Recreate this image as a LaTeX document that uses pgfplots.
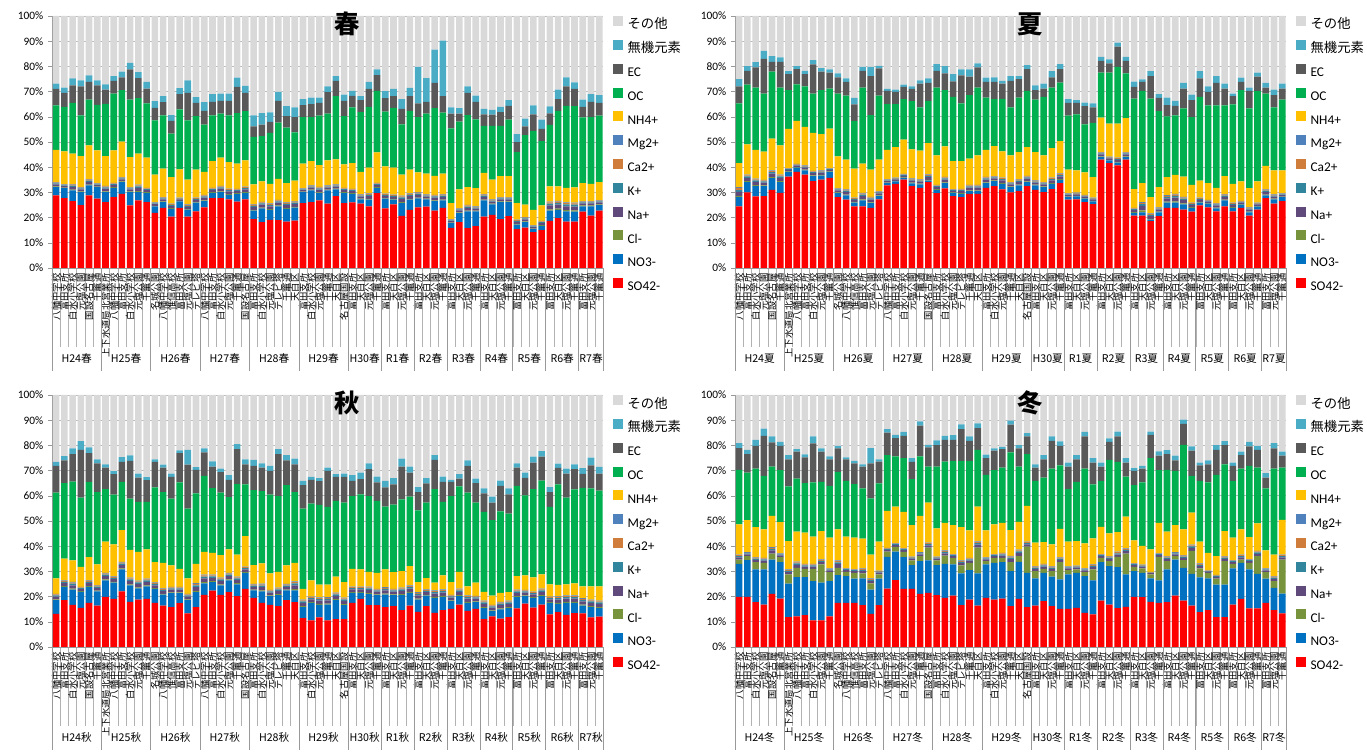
\documentclass[border=0pt]{standalone}
\usepackage{pgfplots}
\pgfplotsset{compat=1.18}
\usepackage{pgfplotstable}
\usepackage{fontspec}
\setmainfont{Carlito}
\newfontfamily\jp{Noto Sans CJK JP}

\definecolor{cSO}{HTML}{FF0000}
\definecolor{cNO}{HTML}{0070C0}
\definecolor{cCl}{HTML}{77933C}
\definecolor{cNa}{HTML}{604A7B}
\definecolor{cK}{HTML}{31859C}
\definecolor{cCa}{HTML}{D07C3A}
\definecolor{cMg}{HTML}{4F81BD}
\definecolor{cNH}{HTML}{FFC000}
\definecolor{cOC}{HTML}{00B050}
\definecolor{cEC}{HTML}{595959}
\definecolor{cIn}{HTML}{4BACC6}
\definecolor{cOt}{HTML}{D9D9D9}

\pgfplotstableread{
so4 no3 cl na k ca mg nh4 oc ec inorg oth
28.8 3.3 0.3 0.8 0.4 0.3 0.2 12.8 17.6 6.6 2.1 26.8
27.7 4.0 0.2 0.6 0.3 0.2 0.2 13.1 17.6 5.6 2.1 28.4
26.5 4.3 0.3 1.1 0.5 0.4 0.2 12.1 20.1 7.0 2.7 24.8
24.9 5.2 0.3 0.8 0.4 0.3 0.2 12.3 16.2 11.5 2.4 25.5
28.8 4.0 0.3 1.1 0.5 0.4 0.2 13.4 18.1 7.1 2.5 23.6
27.5 4.6 0.2 0.6 0.3 0.2 0.2 13.1 18.0 7.8 2.0 25.5
26.1 4.0 0.3 1.1 0.5 0.4 0.2 11.8 20.7 5.7 2.1 27.1
28.1 3.7 0.3 0.8 0.4 0.3 0.2 12.9 22.5 5.1 1.8 23.9
29.4 4.7 0.3 0.8 0.4 0.3 0.2 14.0 20.5 5.0 2.3 22.1
24.8 5.3 0.3 0.8 0.4 0.3 0.2 11.9 22.8 12.0 2.6 18.6
26.8 3.3 0.4 1.3 0.6 0.4 0.3 12.3 22.0 7.9 2.4 22.3
26.1 3.7 0.3 0.8 0.4 0.3 0.2 12.0 21.5 5.9 2.7 26.1
21.9 2.6 0.2 0.6 0.3 0.2 0.2 11.1 21.5 4.9 2.7 33.8
23.9 2.2 0.3 0.8 0.4 0.3 0.2 11.3 21.2 5.2 2.4 31.8
20.4 3.1 0.3 0.8 0.4 0.3 0.2 10.6 17.2 5.1 2.3 39.3
23.9 2.5 0.2 0.6 0.3 0.2 0.2 11.2 23.8 6.1 2.4 28.6
20.4 2.8 0.3 0.8 0.4 0.3 0.2 9.9 23.5 10.9 5.0 25.5
22.5 3.4 0.3 0.8 0.4 0.3 0.2 11.1 21.3 5.2 2.3 32.2
24.1 2.4 0.3 1.1 0.5 0.4 0.2 9.1 18.8 5.4 3.5 34.2
27.7 2.1 0.3 0.8 0.4 0.3 0.2 10.6 18.2 5.3 3.1 31.0
27.7 2.4 0.3 1.1 0.5 0.4 0.2 11.2 17.5 5.0 2.9 30.8
27.2 1.8 0.3 1.1 0.5 0.4 0.2 10.5 18.6 5.7 2.9 30.8
26.3 3.1 0.3 0.8 0.4 0.3 0.2 10.0 20.1 10.4 3.6 24.5
27.2 2.6 0.3 1.1 0.5 0.4 0.2 10.4 19.5 7.3 2.8 27.7
19.4 3.4 0.3 1.1 0.5 0.4 0.2 7.9 18.8 4.2 4.4 39.4
18.2 5.5 0.3 1.1 0.5 0.4 0.2 8.2 17.9 4.6 4.6 38.5
19.1 4.0 0.3 1.1 0.5 0.4 0.2 7.8 20.2 4.4 3.8 38.2
19.0 5.5 0.3 1.1 0.5 0.4 0.2 8.4 22.3 8.6 3.6 30.1
18.4 5.1 0.3 1.1 0.5 0.4 0.2 7.7 22.0 4.6 3.9 35.8
18.8 5.2 0.3 1.1 0.5 0.4 0.2 8.2 19.1 6.1 3.8 36.3
25.7 4.4 0.2 0.6 0.3 0.2 0.2 9.8 18.5 4.7 2.4 33.0
26.1 4.7 0.3 0.8 0.4 0.3 0.2 9.6 17.5 5.1 2.6 32.4
26.8 2.9 0.3 1.1 0.5 0.4 0.2 8.6 19.7 5.0 2.1 32.4
25.5 5.3 0.3 0.8 0.4 0.3 0.2 9.9 18.6 8.5 2.3 27.9
28.5 2.7 0.3 0.8 0.4 0.3 0.2 9.9 25.1 6.1 1.8 23.9
25.7 4.1 0.3 0.8 0.4 0.3 0.2 9.3 19.2 6.0 2.5 31.2
26.0 3.4 0.3 0.8 0.4 0.3 0.2 10.2 22.1 4.6 2.0 29.7
25.5 1.7 0.3 0.8 0.4 0.3 0.2 8.9 23.8 4.7 1.6 31.8
24.5 2.6 0.3 1.1 0.5 0.4 0.2 10.2 24.1 7.2 2.8 26.1
29.7 2.1 0.3 0.8 0.4 0.3 0.2 12.1 24.4 6.2 2.3 21.2
23.7 3.8 0.3 0.8 0.4 0.3 0.2 10.8 21.8 5.3 2.8 29.8
25.2 1.9 0.3 0.8 0.4 0.3 0.2 10.7 23.7 4.7 2.9 28.9
20.7 5.0 0.4 1.3 0.6 0.4 0.3 8.4 19.9 6.1 3.9 33.0
23.1 4.0 0.3 1.1 0.5 0.4 0.2 9.4 23.3 5.9 3.3 28.5
24.1 3.5 0.3 1.1 0.5 0.4 0.2 7.8 22.0 5.4 14.5 20.2
24.4 2.8 0.3 0.8 0.4 0.3 0.2 8.2 23.9 4.6 9.4 24.7
22.8 3.7 0.3 1.1 0.5 0.4 0.2 7.6 26.8 10.1 13.2 13.3
23.9 2.9 0.3 1.1 0.5 0.4 0.2 8.1 24.3 6.5 22.0 9.8
15.9 1.9 0.2 0.6 0.3 0.2 0.2 6.4 29.7 5.9 2.4 36.3
18.2 3.6 0.3 0.8 0.4 0.3 0.2 7.4 26.9 3.2 2.1 36.6
15.8 6.7 0.3 1.1 0.5 0.4 0.2 7.1 28.6 8.8 2.6 27.9
16.6 5.9 0.3 0.8 0.4 0.3 0.2 7.2 27.3 6.9 2.5 31.6
20.4 6.4 0.3 1.1 0.5 0.4 0.2 8.4 18.7 4.6 2.1 36.9
21.1 4.1 0.3 0.8 0.4 0.3 0.2 7.9 21.3 4.5 1.8 37.3
19.4 6.7 0.3 0.8 0.4 0.3 0.2 8.4 19.9 5.5 2.0 36.1
20.6 5.5 0.3 0.8 0.4 0.3 0.2 8.4 22.4 5.4 2.3 33.4
15.4 1.8 0.3 0.8 0.4 0.3 0.2 6.5 20.3 3.9 3.2 46.9
16.0 2.2 0.3 0.8 0.4 0.3 0.2 4.9 27.6 3.5 3.1 40.7
14.2 1.2 0.2 0.6 0.3 0.2 0.2 6.2 31.3 6.6 3.5 35.5
15.0 1.7 0.3 0.8 0.4 0.3 0.2 6.1 25.5 4.9 3.7 41.1
18.7 4.1 0.5 1.5 0.7 0.5 0.3 6.1 24.4 4.6 2.7 35.9
19.8 3.3 0.5 1.5 0.7 0.5 0.3 5.8 29.9 4.7 3.8 29.2
18.4 4.1 0.5 1.5 0.7 0.5 0.3 5.8 32.5 7.8 3.5 24.4
18.4 4.0 0.5 1.5 0.7 0.5 0.3 6.1 32.2 6.9 2.6 26.3
22.4 2.1 0.3 0.8 0.4 0.3 0.2 7.2 26.1 4.1 2.9 33.2
20.8 3.7 0.3 0.8 0.4 0.3 0.2 6.9 26.5 6.0 3.1 31.0
22.8 2.1 0.3 0.8 0.4 0.3 0.2 7.2 26.4 5.0 3.1 31.4
}\spring

\pgfplotstableread{
so4 no3 cl na k ca mg nh4 oc ec inorg oth
24.5 3.6 0.5 1.6 0.7 0.9 0.3 9.5 23.7 6.8 2.8 25.1
30.0 4.1 0.4 1.3 0.6 0.4 0.3 12.0 23.7 5.4 1.9 19.9
28.4 4.1 0.4 1.3 0.6 0.4 0.3 11.4 24.7 8.0 2.1 18.3
28.5 4.0 0.3 1.1 0.5 0.4 0.2 11.2 23.0 13.8 3.2 13.8
31.0 4.7 0.4 1.3 0.6 0.4 0.3 12.6 26.6 3.9 2.3 15.9
29.8 4.3 0.4 1.3 0.6 0.4 0.3 11.6 22.9 10.2 1.8 16.4
36.3 1.8 0.2 0.6 0.3 0.2 0.2 15.6 15.4 6.3 1.2 21.9
38.1 1.7 0.2 0.6 0.3 0.2 0.2 17.1 14.5 6.0 1.2 19.9
37.1 1.6 0.3 0.8 0.4 0.3 0.2 15.3 16.1 4.8 1.3 21.8
34.5 2.0 0.3 0.8 0.4 0.3 0.2 15.1 15.6 11.6 1.7 17.5
35.1 1.6 0.3 0.8 0.4 0.3 0.2 14.4 17.5 7.3 1.4 20.7
35.8 2.3 0.2 0.6 0.3 0.2 0.2 15.7 15.9 6.3 1.3 21.2
28.1 1.6 0.3 0.8 0.4 0.3 0.2 12.6 24.9 6.4 1.6 22.8
27.1 1.7 0.3 1.1 0.5 0.4 0.2 11.7 25.4 5.5 1.3 24.8
24.5 1.4 0.3 0.8 0.4 0.3 0.2 11.5 19.0 6.5 2.6 32.5
24.5 2.3 0.4 1.3 0.6 0.4 0.3 11.6 30.2 6.6 1.6 20.2
23.9 1.8 0.3 1.1 0.5 0.4 0.2 10.8 21.7 15.4 3.7 20.2
27.2 1.3 0.3 0.8 0.4 0.3 0.2 12.5 25.4 10.8 1.0 19.8
32.8 0.9 0.2 0.6 0.3 0.2 0.2 11.7 18.1 5.3 0.8 28.9
33.4 1.0 0.2 0.6 0.3 0.2 0.2 12.1 17.0 4.9 0.9 29.2
35.1 0.7 0.2 0.6 0.3 0.2 0.2 13.6 16.1 4.9 0.9 27.2
32.5 1.1 0.3 0.8 0.4 0.3 0.2 11.5 19.1 4.9 1.0 27.9
31.8 1.4 0.3 0.8 0.4 0.3 0.2 11.4 17.1 9.5 1.3 25.5
34.1 0.6 0.3 1.1 0.5 0.4 0.2 12.4 16.7 7.2 1.7 24.8
29.7 1.3 0.3 0.8 0.4 0.3 0.2 11.7 26.9 6.6 2.7 19.1
31.6 2.1 0.3 1.1 0.5 0.4 0.2 12.1 22.3 6.6 2.9 19.9
28.5 1.3 0.2 0.6 0.3 0.2 0.2 11.1 25.5 6.2 2.8 23.1
28.1 1.3 0.3 0.8 0.4 0.3 0.2 11.0 22.9 11.1 2.4 21.2
29.4 1.1 0.3 1.1 0.5 0.4 0.2 10.4 25.2 7.3 2.9 21.2
29.4 1.1 0.3 1.1 0.5 0.4 0.2 11.7 26.9 8.0 1.6 18.8
31.8 1.9 0.3 1.1 0.5 0.4 0.2 10.7 20.7 6.3 1.6 24.5
32.5 2.0 0.3 0.8 0.4 0.3 0.2 11.9 18.6 6.9 1.7 24.4
31.2 2.2 0.3 1.1 0.5 0.4 0.2 10.4 20.8 6.1 1.1 25.7
30.0 2.1 0.3 0.8 0.4 0.3 0.2 10.6 19.0 10.6 1.8 23.9
30.5 2.3 0.3 1.1 0.5 0.4 0.2 10.7 21.6 7.3 1.2 23.9
32.5 1.6 0.3 1.1 0.5 0.4 0.2 11.4 22.3 8.6 1.6 19.5
31.0 1.8 0.3 0.8 0.4 0.3 0.2 11.2 20.8 3.8 1.9 27.5
30.1 2.0 0.3 0.8 0.4 0.3 0.2 10.6 23.2 3.3 2.0 26.8
31.3 2.1 0.3 1.1 0.5 0.4 0.2 11.7 24.0 4.0 2.5 21.9
33.7 1.3 0.3 1.1 0.5 0.4 0.2 12.8 23.3 5.3 2.0 19.1
27.1 1.0 0.2 0.6 0.3 0.2 0.2 9.4 21.5 5.0 1.5 33.0
27.2 1.2 0.2 0.6 0.3 0.2 0.2 8.8 22.3 4.5 1.1 33.4
26.1 1.4 0.2 0.6 0.3 0.2 0.2 8.9 19.1 7.2 1.4 34.4
25.3 1.1 0.2 0.6 0.3 0.2 0.2 8.2 21.5 6.1 1.6 34.7
43.0 1.0 0.3 0.8 0.4 0.3 0.2 13.7 17.8 4.7 1.6 16.2
41.6 1.1 0.2 0.6 0.3 0.2 0.2 13.1 20.2 3.7 1.6 17.2
40.7 1.1 0.3 0.8 0.4 0.3 0.2 13.5 22.5 8.0 1.6 10.6
43.0 1.0 0.3 0.8 0.4 0.3 0.2 13.5 17.7 5.0 1.6 16.2
20.8 1.1 0.3 0.8 0.4 0.3 0.2 7.4 35.9 4.7 2.1 26.0
20.8 1.3 0.8 1.8 0.6 0.5 0.3 7.6 36.6 3.6 0.9 25.2
18.6 0.6 0.3 1.1 0.5 0.4 0.2 6.4 39.1 8.9 2.0 21.9
20.6 1.5 0.3 0.8 0.4 0.3 0.2 8.0 30.1 5.3 1.5 31.0
23.9 2.0 0.4 1.3 0.6 0.4 0.3 7.2 24.1 4.4 3.0 32.4
23.9 2.0 0.5 1.5 0.7 0.5 0.3 7.6 23.6 3.7 2.0 33.7
23.2 2.0 0.4 1.3 0.6 0.4 0.3 8.1 27.0 7.9 2.3 26.5
22.4 1.5 0.3 0.8 0.4 0.3 0.2 7.1 26.9 6.7 2.2 31.2
24.8 1.1 0.3 0.8 0.4 0.3 0.2 6.8 33.2 7.3 2.9 21.9
24.1 1.4 0.2 0.6 0.3 0.2 0.2 6.7 30.8 5.4 2.2 27.9
22.5 1.2 0.3 0.8 0.4 0.3 0.2 6.1 32.7 9.0 2.6 23.9
24.5 2.3 0.3 1.1 0.5 0.4 0.2 7.2 28.0 6.7 2.0 26.8
22.5 1.4 0.3 0.8 0.4 0.3 0.2 7.5 31.5 3.3 1.0 30.8
23.9 1.2 0.2 0.6 0.3 0.2 0.2 7.8 36.2 3.3 1.6 24.5
20.8 1.3 0.3 0.8 0.4 0.3 0.2 7.6 31.6 7.0 1.3 28.4
23.2 1.2 0.2 0.6 0.3 0.2 0.2 8.5 35.8 5.7 1.6 22.5
27.7 1.1 0.3 1.1 0.5 0.4 0.2 9.2 28.7 2.4 1.9 26.5
25.5 1.7 0.3 0.8 0.4 0.3 0.2 9.5 25.0 4.9 2.2 29.2
26.5 1.6 0.2 0.6 0.3 0.2 0.2 9.1 28.1 4.4 2.0 26.8
}\summer

\pgfplotstableread{
so4 no3 cl na k ca mg nh4 oc ec inorg oth
13.1 5.5 0.3 1.1 0.5 0.4 0.2 6.1 34.1 10.6 1.6 26.5
18.6 5.3 0.3 1.1 0.5 0.4 0.2 8.7 29.9 9.1 1.6 24.3
16.7 6.1 0.4 1.3 0.6 0.4 0.3 8.6 31.2 10.9 2.3 21.2
15.5 6.4 0.3 0.8 0.4 0.3 0.2 7.9 27.5 18.9 3.5 18.3
17.5 6.4 0.3 1.1 0.5 0.4 0.2 9.3 29.8 11.4 2.3 20.8
16.4 5.7 0.3 1.1 0.5 0.4 0.2 8.2 28.7 11.4 1.6 25.5
19.9 6.5 0.4 1.3 0.6 0.4 0.3 12.4 20.8 8.6 1.3 27.5
19.1 6.4 0.3 1.1 0.5 0.4 0.2 12.7 19.8 8.1 1.2 30.2
22.1 8.7 0.4 1.3 0.6 0.4 0.3 12.6 19.1 8.0 1.8 24.7
17.9 6.6 0.4 1.3 0.6 0.4 0.3 11.0 20.4 15.0 2.1 24.0
18.8 4.5 0.4 1.3 0.6 0.4 0.3 11.4 19.9 9.6 1.6 31.2
19.1 5.0 0.4 1.3 0.6 0.4 0.3 11.6 18.9 8.6 1.2 32.6
17.5 5.6 0.3 1.1 0.5 0.4 0.2 8.1 29.6 10.2 1.0 25.5
16.4 4.4 0.3 1.1 0.5 0.4 0.2 10.1 28.1 9.7 1.2 27.6
15.8 5.6 0.3 1.1 0.5 0.4 0.2 8.5 26.5 8.6 1.3 31.2
17.4 4.0 0.3 1.1 0.5 0.4 0.2 7.1 34.3 11.6 1.1 22.0
13.3 5.3 0.3 1.1 0.5 0.4 0.2 6.1 27.7 17.5 5.8 21.8
15.8 6.0 0.5 1.5 0.7 0.5 0.3 7.7 28.0 9.3 1.1 28.6
20.7 4.5 0.5 1.5 0.7 0.5 0.3 9.0 30.2 9.3 1.6 21.2
22.4 3.3 0.4 1.3 0.6 0.4 0.3 8.7 25.6 8.6 2.1 26.3
20.7 3.8 0.4 1.3 0.6 0.4 0.3 9.0 24.8 8.1 1.4 29.2
21.8 4.6 0.4 1.3 0.6 0.4 0.3 9.3 20.8 6.8 1.9 31.8
20.2 4.7 0.4 1.3 0.6 0.4 0.3 8.8 27.9 13.9 2.0 19.5
23.1 6.3 0.3 1.1 0.5 0.4 0.2 12.1 20.5 8.0 2.0 25.5
19.5 3.0 0.3 1.1 0.5 0.4 0.2 7.5 29.8 9.6 2.4 25.7
17.5 4.6 0.4 1.3 0.6 0.4 0.3 8.1 28.7 9.3 1.7 27.1
16.7 3.5 0.3 1.1 0.5 0.4 0.2 6.5 31.3 9.4 2.0 28.1
16.2 4.4 0.4 1.3 0.6 0.4 0.3 6.2 30.1 16.6 2.0 21.5
18.6 3.9 0.3 1.1 0.5 0.4 0.2 7.4 31.8 9.9 2.0 23.9
17.8 4.7 0.5 1.5 0.7 0.5 0.3 7.4 28.1 11.0 2.3 25.2
11.5 4.3 0.4 1.3 0.6 0.4 0.3 4.3 31.8 9.3 1.7 34.1
10.6 6.9 0.3 1.1 0.5 0.4 0.2 6.4 30.5 9.4 1.2 32.5
11.8 4.9 0.4 1.3 0.6 0.4 0.3 5.1 31.6 9.4 1.2 33.0
10.6 6.2 0.4 1.3 0.6 0.4 0.3 5.0 30.8 14.3 1.3 28.8
11.1 7.5 0.4 1.3 0.6 0.4 0.3 6.3 30.1 9.5 1.1 31.4
11.1 5.5 0.4 1.3 0.6 0.4 0.3 6.1 31.6 10.2 1.3 31.2
17.5 4.0 0.3 1.1 0.5 0.4 0.2 7.0 28.9 6.0 2.3 31.8
19.1 2.4 0.3 1.1 0.5 0.4 0.2 6.8 29.8 6.0 2.6 30.8
16.6 4.4 0.4 1.3 0.6 0.4 0.3 5.8 30.1 10.7 2.3 27.1
16.6 4.0 0.3 1.1 0.5 0.4 0.2 6.3 28.6 7.3 2.3 32.4
15.8 5.0 0.4 1.3 0.6 0.4 0.3 7.0 24.9 7.6 2.6 34.1
16.2 4.4 0.3 1.1 0.5 0.4 0.2 6.6 26.8 8.0 2.5 33.0
14.6 6.0 0.4 1.3 0.6 0.4 0.3 6.5 28.5 13.0 3.2 25.2
16.4 5.1 0.4 1.3 0.6 0.4 0.3 7.6 27.6 9.5 2.4 28.4
13.9 4.9 0.4 1.3 0.6 0.4 0.3 3.9 28.5 7.3 1.9 36.6
16.2 4.2 0.3 1.1 0.5 0.4 0.2 4.4 30.0 7.6 2.1 33.0
13.5 6.0 0.4 1.3 0.6 0.4 0.3 3.0 37.1 11.7 1.8 23.9
14.6 5.3 0.4 1.3 0.6 0.4 0.3 5.5 29.2 7.9 2.1 32.4
15.1 3.1 0.3 1.1 0.5 0.4 0.2 5.0 34.2 5.6 0.8 33.7
16.8 3.4 0.4 1.3 0.6 0.4 0.3 6.6 33.9 3.1 1.8 31.4
14.3 3.2 0.4 1.3 0.6 0.4 0.3 3.6 37.2 10.6 2.2 25.9
15.1 2.7 0.3 1.1 0.5 0.4 0.2 5.2 31.8 7.7 1.8 33.2
11.1 4.3 0.4 1.3 0.6 0.4 0.3 3.5 31.7 7.4 1.9 37.1
12.2 2.0 0.3 1.1 0.5 0.4 0.2 3.7 29.9 7.0 2.4 40.3
11.3 3.6 0.4 1.3 0.6 0.4 0.3 3.6 32.3 10.1 2.1 34.0
11.9 3.5 0.4 1.3 0.6 0.4 0.3 3.4 31.1 7.7 2.3 37.1
15.3 4.5 0.4 1.3 0.6 0.4 0.3 5.3 35.8 7.3 1.7 27.1
17.2 3.0 0.3 1.1 0.5 0.4 0.2 5.7 31.8 6.9 2.1 30.8
15.6 3.9 0.3 1.1 0.5 0.4 0.2 5.6 35.0 10.6 2.3 24.5
16.8 3.4 0.4 1.3 0.6 0.4 0.3 5.6 37.2 9.5 2.2 22.3
12.9 4.6 0.3 1.1 0.5 0.4 0.2 4.9 30.7 5.9 1.9 36.6
13.8 3.3 0.4 1.3 0.6 0.4 0.3 4.6 39.8 6.6 1.7 27.2
12.7 4.8 0.4 1.3 0.6 0.4 0.3 4.4 34.4 9.5 2.0 29.2
13.4 4.1 0.4 1.3 0.6 0.4 0.3 4.7 37.3 8.1 1.9 27.5
13.3 3.1 0.4 1.3 0.6 0.4 0.3 4.7 39.0 5.6 2.3 29.0
11.8 4.0 0.4 1.3 0.6 0.4 0.3 5.3 38.8 9.2 3.0 24.9
12.1 3.3 0.4 1.3 0.6 0.4 0.3 5.7 38.0 6.7 2.7 28.5
}\autumn

\pgfplotstableread{
so4 no3 cl na k ca mg nh4 oc ec inorg oth
19.9 13.1 1.7 0.9 0.5 0.4 0.2 12.0 21.6 8.6 2.0 19.1
19.9 14.6 1.6 0.7 0.4 0.2 0.2 12.7 18.9 7.3 1.7 21.8
17.8 13.0 2.9 0.9 0.5 0.4 0.2 11.9 23.2 9.0 2.4 17.8
16.8 14.0 2.6 0.9 0.5 0.4 0.2 11.3 21.2 15.9 2.9 13.3
21.1 13.6 2.4 1.2 0.6 0.4 0.3 12.4 19.6 9.6 2.4 16.4
19.2 14.5 2.0 0.7 0.4 0.2 0.2 12.4 20.6 9.6 1.6 18.6
11.9 13.2 3.7 0.9 0.5 0.4 0.2 11.2 21.7 10.8 1.6 23.9
12.2 15.5 3.7 1.2 0.6 0.4 0.3 11.9 21.0 10.7 1.0 21.5
12.6 15.1 3.3 0.9 0.5 0.4 0.2 12.4 19.6 10.2 1.2 23.6
10.6 15.5 4.9 0.9 0.5 0.4 0.2 10.8 21.5 15.5 2.8 16.4
10.6 14.9 7.3 0.9 0.5 0.4 0.2 11.2 19.5 12.0 1.3 21.2
12.2 13.9 3.6 0.7 0.4 0.2 0.2 12.2 20.5 10.6 1.1 24.4
17.5 11.0 2.9 1.6 0.6 0.5 0.3 12.3 22.8 9.3 1.0 20.2
17.5 10.6 1.7 0.7 0.4 0.2 0.2 12.5 22.1 8.6 0.7 24.8
17.5 9.6 2.3 0.7 0.4 0.2 0.2 12.5 21.2 8.3 1.0 26.1
16.6 10.6 2.0 0.9 0.5 0.4 0.2 11.8 19.9 8.7 0.9 27.5
13.1 9.7 2.4 0.9 0.5 0.4 0.2 9.5 22.3 13.9 6.0 21.1
16.6 10.5 1.7 0.7 0.4 0.2 0.2 11.5 23.1 8.7 0.9 25.5
23.2 12.6 2.0 0.7 0.4 0.2 0.2 14.7 22.1 9.0 1.4 13.5
26.5 11.3 1.9 0.7 0.4 0.2 0.2 14.5 19.9 7.3 1.3 15.8
23.1 12.6 2.0 0.7 0.4 0.2 0.2 14.4 21.3 8.9 1.6 14.6
23.1 9.4 1.9 0.7 0.4 0.2 0.2 12.5 18.2 6.9 1.4 25.1
21.1 13.0 2.0 0.7 0.4 0.2 0.2 14.4 23.6 12.2 1.7 10.5
21.5 12.9 5.0 0.9 0.5 0.4 0.2 15.9 14.3 7.6 1.0 19.8
20.6 11.9 1.9 0.7 0.4 0.2 0.2 11.2 24.5 8.5 1.9 18.0
19.5 13.5 3.3 0.9 0.5 0.4 0.2 11.0 24.3 8.6 1.6 16.2
20.4 12.4 2.6 0.7 0.4 0.2 0.2 11.5 25.5 8.3 1.9 15.9
16.6 12.6 3.2 0.9 0.5 0.4 0.2 13.2 26.3 12.6 1.8 11.7
18.8 11.7 2.9 0.9 0.5 0.4 0.2 10.9 27.6 7.9 1.8 16.4
16.4 12.8 10.2 1.2 0.6 0.4 0.3 13.8 22.5 8.7 1.8 11.3
19.5 13.3 1.3 0.7 0.4 0.2 0.2 10.7 22.0 6.6 1.4 23.7
18.8 14.6 2.0 0.7 0.4 0.2 0.2 11.8 21.5 7.7 0.9 21.2
19.2 14.5 1.7 0.9 0.5 0.4 0.2 11.9 21.9 7.3 0.9 20.6
16.2 13.9 3.6 1.2 0.6 0.4 0.3 10.2 30.8 11.0 1.6 10.2
19.1 14.7 2.3 1.2 0.6 0.4 0.3 11.1 21.9 7.2 1.3 19.9
15.8 13.6 10.4 0.9 0.5 0.4 0.2 14.2 20.5 7.1 1.3 15.1
16.4 10.8 2.9 0.9 0.5 0.4 0.2 9.3 24.5 5.3 1.3 27.5
18.2 11.2 1.6 0.9 0.5 0.4 0.2 8.6 25.6 7.3 1.6 23.9
16.2 11.7 2.2 0.9 0.5 0.4 0.2 8.6 30.1 11.0 1.8 16.4
15.1 11.7 6.9 0.9 0.5 0.4 0.2 11.2 25.2 7.7 1.8 18.4
15.1 13.7 1.7 0.7 0.4 0.2 0.2 9.8 20.8 9.0 1.6 26.8
15.5 13.9 1.4 0.7 0.4 0.2 0.2 9.7 23.5 9.0 1.6 23.9
13.5 14.6 1.6 0.7 0.4 0.2 0.2 9.9 29.7 12.8 1.8 14.6
12.9 13.5 4.4 0.9 0.5 0.4 0.2 10.3 21.4 8.7 1.7 25.1
18.4 15.3 1.7 0.7 0.4 0.2 0.2 10.8 18.2 5.7 1.6 26.8
16.8 15.3 2.0 0.9 0.5 0.4 0.2 9.0 29.2 7.1 1.4 17.2
15.4 16.3 4.1 0.9 0.5 0.4 0.2 7.8 27.9 10.1 1.9 14.5
15.9 12.9 8.3 0.9 0.5 0.4 0.2 12.6 15.9 5.6 1.7 25.1
19.9 10.2 1.7 0.7 0.4 0.2 0.2 9.0 21.9 5.7 1.1 29.0
19.8 9.6 1.8 0.7 0.4 0.2 0.2 7.4 25.2 5.5 1.1 28.1
17.9 9.3 1.6 0.5 0.2 0.2 0.1 8.9 36.2 9.3 1.3 14.5
17.5 8.9 9.4 0.7 0.4 0.2 0.2 12.0 20.9 5.7 1.7 22.4
17.8 13.0 3.3 0.9 0.5 0.4 0.2 9.7 24.5 6.2 1.6 21.9
20.4 14.3 1.4 0.7 0.4 0.2 0.2 10.8 21.5 4.2 1.8 24.1
18.4 13.0 3.1 0.9 0.5 0.4 0.2 10.2 33.5 8.3 1.7 9.8
16.4 12.6 9.1 1.2 0.6 0.4 0.3 12.7 14.6 10.0 1.7 20.4
13.8 13.8 3.6 0.9 0.5 0.4 0.2 8.6 24.1 6.2 1.1 26.8
14.6 12.6 2.2 0.5 0.2 0.2 0.1 7.0 27.9 7.2 1.6 25.9
11.9 12.9 2.3 0.7 0.4 0.2 0.2 7.5 32.2 9.9 1.9 19.9
11.9 12.9 9.3 0.9 0.5 0.4 0.2 9.9 26.5 7.6 1.6 18.3
16.8 14.4 1.8 0.7 0.4 0.2 0.2 8.9 22.5 6.0 1.3 26.8
19.1 14.3 1.3 0.9 0.5 0.4 0.2 10.0 24.1 5.3 1.4 22.5
15.3 15.5 2.6 0.7 0.4 0.2 0.2 8.7 28.3 7.7 1.8 18.6
15.3 13.7 7.1 0.9 0.5 0.4 0.2 11.0 22.1 7.0 1.6 20.2
17.5 9.6 2.6 0.7 0.4 0.2 0.2 7.1 24.6 4.3 1.8 31.0
14.6 8.9 2.6 0.9 0.5 0.4 0.2 8.6 34.1 8.0 2.1 19.1
13.3 7.9 13.5 0.9 0.5 0.4 0.2 13.7 20.8 4.7 1.6 22.5
}\winter

\pgfplotsset{
 sitelabels/.style={xticklabels={八幡中学校,富田支所,白水小学校,元塩公園,国設名古屋,千竃通,上下水道局北営業所,八幡中学校,富田支所,白水小学校,元塩公園,千竃通,名城公園,八幡中学校,惟信高校,富田支所,元塩公園,テレビ塔,八幡中学校,富田支所,白水小学校,元塩公園,千竃通,国設名古屋,富田支所,白水小学校,元塩公園,テレビ塔,千竃通,天白区,富田支所,白水小学校,元塩公園,千竃通,天白区,名古屋国設,富田支所,天白区,元塩公園,千竃通,富田支所,天白区,元塩公園,千竃通,富田支所,天白区,元塩公園,千竃通,富田支所,天白区,元塩公園,千竃通,富田支所,天白区,元塩公園,千竃通,富田支所,天白区,元塩公園,千竃通,富田支所,天白区,元塩公園,千竃通,富田支所,元塩公園,千竃通}},
 panel/.style={
  ybar stacked, bar width=0.8,
  scale only axis, width=413.5pt, height=189pt,
  anchor=south west,
  xmin=-0.5, xmax=66.5, ymin=0, ymax=100,
  enlargelimits=false, clip=false,
  axis x line*=bottom, axis y line*=left,
  axis line style={draw=gray!80},
  ytick={0,10,...,100},
  yticklabels={0\%,10\%,20\%,30\%,40\%,50\%,60\%,70\%,80\%,90\%,100\%},
  yticklabel style={font=\fontsize{8.5}{9}\selectfont},
  ymajorgrids, major grid style={gray!55, line width=0.5pt},
  xtick={0,...,66},
  sitelabels,
  xticklabel style={font=\jp\fontsize{7}{7}\selectfont, rotate=90, anchor=east, inner sep=1pt},
  minor xtick={-0.5,0.5,...,66.5},
  tick align=outside,
  major tick length=3pt,
  minor tick length=59pt,
  major x tick style={draw=none},
  minor x tick style={gray!60, line width=0.4pt},
  y tick style={gray!80},
  title style={at={(0.535,0.937)}, anchor=center, inner sep=0pt,
    font=\jp\bfseries\fontsize{19}{19}\selectfont},
  reverse legend,
  legend cell align=left,
  legend style={at={(1,1)}, anchor=north west, xshift=6.75pt, yshift=0pt, draw=none, fill=none,
    font=\fontsize{10}{10}\selectfont, row sep=6.3pt, inner sep=0pt,
    nodes={inner sep=0pt, text height=7pt, text depth=2pt}},
  legend image code/.code={\fill[##1] (0pt,-0.45pt) rectangle (7.5pt,7.05pt); \path (11.25pt,0pt);},
 },
}

\newcommand{\plotall}[1]{%
 \addplot[fill=cSO,draw=none] table[x expr=\coordindex,y=so4]{#1};
 \addplot[fill=cNO,draw=none] table[x expr=\coordindex,y=no3]{#1};
 \addplot[fill=cCl,draw=none] table[x expr=\coordindex,y=cl]{#1};
 \addplot[fill=cNa,draw=none] table[x expr=\coordindex,y=na]{#1};
 \addplot[fill=cK,draw=none] table[x expr=\coordindex,y=k]{#1};
 \addplot[fill=cCa,draw=none] table[x expr=\coordindex,y=ca]{#1};
 \addplot[fill=cMg,draw=none] table[x expr=\coordindex,y=mg]{#1};
 \addplot[fill=cNH,draw=none] table[x expr=\coordindex,y=nh4]{#1};
 \addplot[fill=cOC,draw=none] table[x expr=\coordindex,y=oc]{#1};
 \addplot[fill=cEC,draw=none] table[x expr=\coordindex,y=ec]{#1};
 \addplot[fill=cIn,draw=none] table[x expr=\coordindex,y=inorg]{#1};
 \addplot[fill=cOt,draw=none] table[x expr=\coordindex,y=oth]{#1};
 \legend{SO42-,NO3-,Cl-,Na+,K+,Ca2+,Mg2+,NH4+,OC,EC,{\jp 無機元素},{\jp その他}}
}

\newcommand{\decor}[1]{%
 \pgfplotsinvokeforeach{-0.5,5.5,11.5,17.5,23.5,29.5,35.5,39.5,43.5,47.5,51.5,55.5,59.5,63.5,66.5}{%
   \draw[gray!80,line width=0.5pt] (axis cs:##1,0) -- ++(0pt,-77pt);}
 \tikzset{gl/.style={font=\jp\fontsize{8}{8}\selectfont, yshift=-68pt, inner sep=0pt}}
 \node[gl] at (axis cs:2.5,0) {H24#1};
 \node[gl] at (axis cs:8.5,0) {H25#1};
 \node[gl] at (axis cs:14.5,0) {H26#1};
 \node[gl] at (axis cs:20.5,0) {H27#1};
 \node[gl] at (axis cs:26.5,0) {H28#1};
 \node[gl] at (axis cs:32.5,0) {H29#1};
 \node[gl] at (axis cs:37.5,0) {H30#1};
 \node[gl] at (axis cs:41.5,0) {R1#1};
 \node[gl] at (axis cs:45.5,0) {R2#1};
 \node[gl] at (axis cs:49.5,0) {R3#1};
 \node[gl] at (axis cs:53.5,0) {R4#1};
 \node[gl] at (axis cs:57.5,0) {R5#1};
 \node[gl] at (axis cs:61.5,0) {R6#1};
 \node[gl] at (axis cs:65,0) {R7#1};
}

\begin{document}
\begin{tikzpicture}
\begin{axis}[panel, at={(39pt,363.75pt)}, title={春}]
\plotall{\spring}
\decor{春}
\end{axis}
\begin{axis}[panel, at={(551.25pt,363.75pt)}, title={夏}]
\plotall{\summer}
\decor{夏}
\end{axis}
\begin{axis}[panel, at={(39pt,79.5pt)}, title={秋}]
\plotall{\autumn}
\decor{秋}
\end{axis}
\begin{axis}[panel, at={(551.25pt,79.5pt)}, title={冬}]
\plotall{\winter}
\decor{冬}
\end{axis}
\pgfresetboundingbox
\path[use as bounding box] (0,0) rectangle (1025.25pt,564.75pt);
\end{tikzpicture}
\end{document}
